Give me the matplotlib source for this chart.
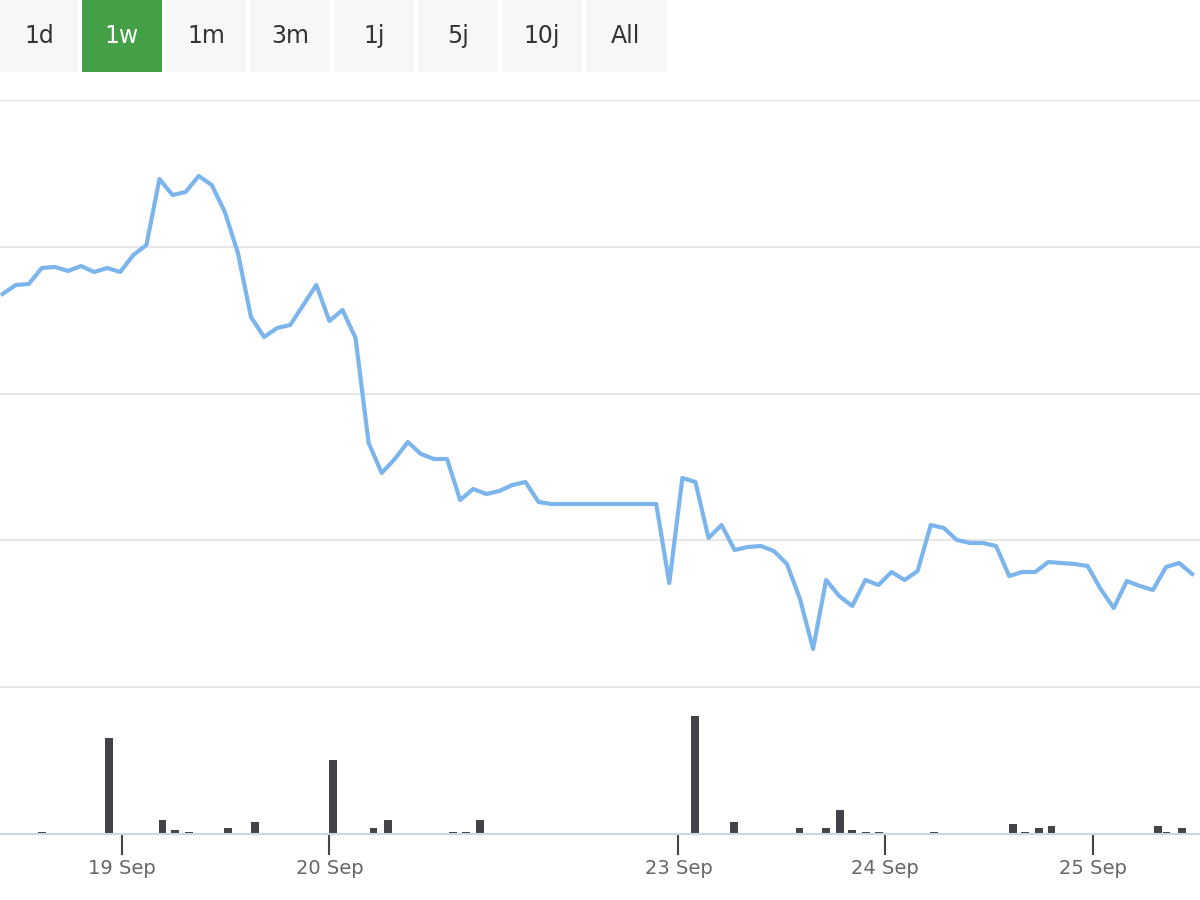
import matplotlib
matplotlib.use("Agg")
import matplotlib.pyplot as plt
from matplotlib.patches import Rectangle

price = [29.4,28.5,28.4,26.8,26.7,27.1,26.6,27.2,26.8,27.2,25.5,24.5,17.9,19.5,19.2,17.6,18.5,21.2,25.3,31.7,
         33.7,32.8,32.5,30.5,28.5,32.1,31.0,33.8,44.3,47.3,45.9,44.2,45.4,45.9,45.9,50.0,48.9,49.4,49.1,48.5,
         48.2,50.2,50.4,50.4,50.4,50.4,50.4,50.4,50.4,50.4,50.4,58.3,47.8,48.2,53.8,52.5,55.0,54.7,54.6,55.1,
         56.4,59.9,64.9,58.0,59.6,60.6,58.0,58.5,57.2,58.0,57.1,52.5,52.8,54.0,54.3,54.3,54.6,57.6,57.2,57.2,
         56.2,56.3,56.4,56.6,58.9,60.8,58.1,58.6,59.0,56.7,56.3,57.4]
price = [80 - p for p in price]
vol_pos = [3.1,8.3,12.5,13.5,14.6,17.6,19.7,25.8,29.0,30.1,35.2,36.2,37.3,54.1,57.2,62.3,64.4,65.5,66.4,67.5,68.5,72.8,79.0,79.9,81.0,82.0,90.3,91.0,92.2]
vol = [2,96,14,4,2,6,12,74,6,14,2,2,14,118,12,6,6,24,4,2,2,2,10,2,6,8,8,2,6]
vol_pos = [p*91/93.0 for p in vol_pos]
tick_pos = [9.1, 25.0, 51.7, 67.5, 83.4]
tick_labels = ["19 Sep", "20 Sep", "23 Sep", "24 Sep", "25 Sep"]
buttons = ["1d", "1w", "1m", "3m", "1j", "5j", "10j", "All"]
active = "1w"

W, H = 1200, 900
fig = plt.figure(figsize=(12, 9), dpi=100)
fig.patch.set_facecolor("white")

# buttons
for i, b in enumerate(buttons):
    x0 = 0 if i == 0 else 82 + (i - 1) * 84
    w = 78 if i == 0 else 80
    on = b == active
    fig.patches.append(Rectangle((x0 / W, 1 - 72 / H), w / W, 72 / H, transform=fig.transFigure,
                                 facecolor="#43a047" if on else "#f7f7f8", edgecolor="none"))
    fig.text((x0 + w / 2) / W, 1 - 36 / H, b, ha="center", va="center", fontsize=17,
             color="white" if on else "#333333")

xl = (-0.2, 91.6)
ax = fig.add_axes([0, 1 - 687 / H, 1, 587 / H])
ax.plot(range(len(price)), price, color="#7cb5ec", lw=3, solid_joinstyle="round")
lo, hi = 80 - 68.7, 80 - 10.0
ax.set_ylim(lo, hi)
ax.set_yticks([lo + k * (hi - lo) / 4 for k in range(5)])
ax.set_xlim(*xl)
ax.grid(axis="y", color="#e6e6e6", lw=1.5)
ax.set_xticks([])
ax.tick_params(left=False, labelleft=False)
for s in ax.spines.values():
    s.set_visible(False)

av = fig.add_axes([0, 1 - 834 / H, 1, 147 / H])
av.bar(vol_pos, vol, width=0.6, color="#434348")
av.set_ylim(0, 147)
av.set_xlim(*xl)
av.set_yticks([147])
av.grid(axis="y", color="#e6e6e6", lw=1.5)
av.tick_params(left=False, labelleft=False)
for k, s in av.spines.items():
    s.set_visible(k == "bottom")
av.spines["bottom"].set_color("#ccd6eb")
av.spines["bottom"].set_linewidth(1.5)
av.set_xticks(tick_pos)
av.set_xticklabels(tick_labels, fontsize=14, color="#666666")
av.tick_params(axis="x", length=15, width=1.5, color="#444444", direction="out", pad=3)

fig.savefig("out.png", dpi=100)
